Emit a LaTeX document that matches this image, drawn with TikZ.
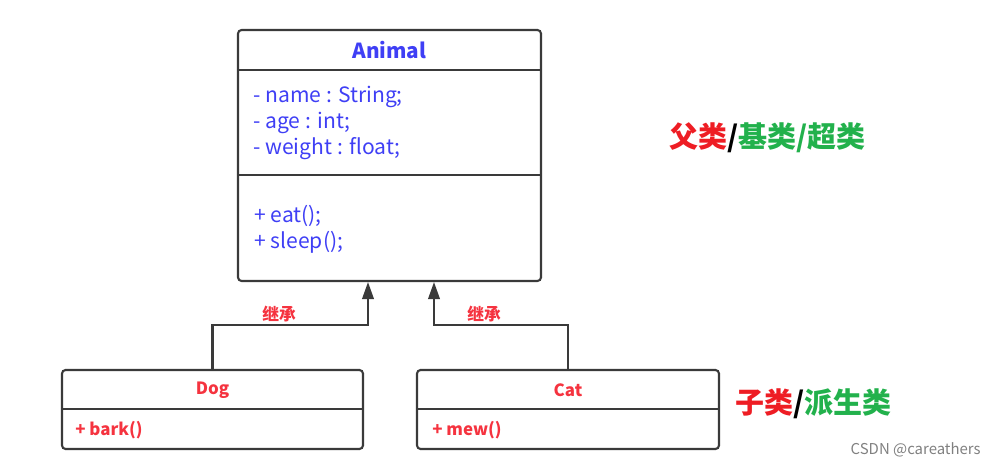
\documentclass[tikz,border=0pt]{standalone}
\usepackage{fontspec}
\setmainfont{Noto Sans CJK SC}
\usepackage{tikz}
\usetikzlibrary{arrows.meta}
\definecolor{umlblue}{HTML}{3F3FF5}
\definecolor{umlred}{HTML}{F5333F}
\definecolor{tagred}{HTML}{EE1D24}
\definecolor{taggreen}{HTML}{22B14C}
\definecolor{umlgray}{HTML}{3A3A3A}

\begin{document}
\begin{tikzpicture}[
    x=0.02cm, y=-0.02cm,
    >={Triangle[length=3.4mm,width=2.3mm]},
    classbox/.style={draw=umlgray, line width=1.2pt, rounded corners=2pt, inner sep=0pt},
    divider/.style={draw=umlgray, line width=1.2pt},
    member/.style={font=\fontsize{12}{14}\selectfont, text=umlblue, anchor=west, inner sep=0pt},
    title/.style={font=\fontsize{11.8}{13}\selectfont\bfseries, text=umlblue},
    subtitle/.style={font=\fontsize{9.6}{11}\selectfont\bfseries, text=umlred},
    submember/.style={font=\fontsize{9.6}{11}\selectfont\bfseries, text=umlred, anchor=west, inner sep=0pt},
    inherit/.style={->, draw=umlgray, line width=1.2pt},
    edgelabel/.style={font=\fontsize{9.5}{10}\selectfont\bfseries, text=umlred},
    tag/.style={font=\fontsize{16.5}{18}\selectfont\bfseries, anchor=west, inner sep=0pt}
]
    \useasboundingbox (0,0) rectangle (996,465);

    % parent class
    \node[classbox, minimum width=6.06cm, minimum height=5.02cm] (animal) at (389.5,155.5) {};
    \draw[divider] (animal.west |- 0,70) -- (animal.east |- 0,70);
    \draw[divider] (animal.west |- 0,175) -- (animal.east |- 0,175);
    \node[title] (animaltitle) at (389.5,50) {Animal};
    \foreach \i/\txt in {0/{- name : String;},1/{- age : int;},2/{- weight : float;}} {
        \node[member] (attr\i) at (253,97+26*\i) {\txt};
    }
    \foreach \i/\txt in {0/{+ eat();},1/{+ sleep();}} {
        \node[member] (meth\i) at (254,216+26*\i) {\txt};
    }

    % child classes
    \node[classbox, minimum width=6.02cm, minimum height=1.58cm] (dog) at (212.5,409.5) {};
    \draw[divider] (dog.west |- 0,409) -- (dog.east |- 0,409);
    \node[subtitle] (dogtitle) at (212.5,390) {Dog};
    \node[submember] (dogmeth) at (75,430) {+ bark()};

    \node[classbox, minimum width=6.04cm, minimum height=1.58cm] (cat) at (568,409.5) {};
    \draw[divider] (cat.west |- 0,409) -- (cat.east |- 0,409);
    \node[subtitle] (cattitle) at (568,390) {Cat};
    \node[submember] (catmeth) at (432,430) {+ mew()};

    % inheritance
    \draw[inherit] (dog.north) |- (368,325) -- (animal.south -| 368,0);
    \draw[inherit] (cat.north) |- (434,325) -- (animal.south -| 434,0);
    \node[edgelabel] (doginh) at (279,314) {继承};
    \node[edgelabel] (catinh) at (484,314) {继承};

    % tags
    \node[tag] (supertag) at (669,138) {\textcolor{tagred}{父类}/\textcolor{taggreen}{基类/超类}};
    \node[tag] (subtag) at (735,404) {\textcolor{tagred}{子类}/\textcolor{taggreen}{派生类}};

    \node[font=\fontsize{8.5}{10}\selectfont, text=gray, anchor=east, inner sep=0pt] (mark) at (981,450) {CSDN @careathers};
\end{tikzpicture}
\end{document}
